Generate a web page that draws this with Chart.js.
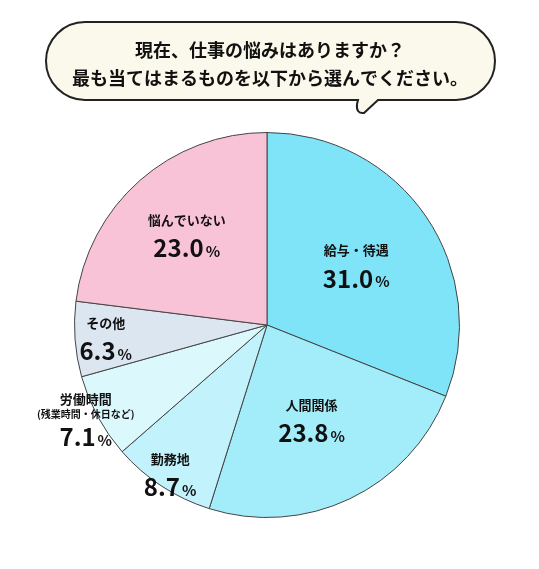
<!DOCTYPE html>
<html><head><meta charset="utf-8">
<script src="https://cdn.jsdelivr.net/npm/chart.js@4"></script>
<style>html,body{margin:0;padding:0;background:#fff}#w{width:539px;height:569px}</style>
</head><body><div id="w"><canvas id="c"></canvas></div>
<script>
const categories = ['給与・待遇','人間関係','勤務地','労働時間','その他','悩んでいない'];
const subLabels = ['','','','(残業時間・休日など)','',''];
const values = [31.0, 23.8, 8.7, 7.1, 6.3, 23.0];
const colors = ['#80e4f8','#a3edfa','#c2f3fc','#dbf8fd','#dce6f0','#f9c3d7'];
const labelRadius = [0.56, 0.54, 0.92, 1.07, 0.84, 0.63];
const titleLines = ['現在、仕事の悩みはありますか？','最も当てはまるものを以下から選んでください。'];
const F = '"Noto Sans CJK JP", "Noto Sans", sans-serif';

const bubble = {id:'bubble', afterDraw(chart){
  const ctx = chart.ctx; ctx.save();
  const x0=46,x1=495,y0=22,y1=100,r=39;
  ctx.beginPath();
  ctx.moveTo(x0+r,y0); ctx.lineTo(x1-r,y0);
  ctx.arc(x1-r,y0+r,r,-Math.PI/2,Math.PI/2);
  ctx.lineTo(378,y1); ctx.lineTo(364,113); ctx.quadraticCurveTo(356,114,357,104); ctx.lineTo(358,y1);
  ctx.lineTo(x0+r,y1);
  ctx.arc(x0+r,y0+r,r,Math.PI/2,Math.PI*1.5);
  ctx.closePath();
  ctx.fillStyle='#fbf9ec'; ctx.fill();
  ctx.lineWidth=2; ctx.strokeStyle='#222'; ctx.stroke();
  ctx.fillStyle='#111'; ctx.textAlign='center'; ctx.textBaseline='middle';
  ctx.font='bold 18px '+F;
  ctx.fillText(titleLines[0],270,50); ctx.fillText(titleLines[1],270,78);
  ctx.restore();
}};
const labels = {id:'labels', afterDatasetsDraw(chart){
  const ctx=chart.ctx; ctx.save();
  const meta=chart.getDatasetMeta(0);
  meta.data.forEach((arc,i)=>{
    const mid=(arc.startAngle+arc.endAngle)/2;
    const rr=arc.outerRadius*labelRadius[i];
    const cx=arc.x+Math.cos(mid)*rr, cy=arc.y+Math.sin(mid)*rr;
    ctx.fillStyle='#111'; ctx.textBaseline='middle'; ctx.textAlign='center';
    let y=cy-14;
    ctx.font='bold 13px '+F;
    if(subLabels[i]){ ctx.fillText(categories[i],cx,y-10); ctx.font='bold 10px '+F; ctx.fillText(subLabels[i],cx,y+5); y+=6; }
    else ctx.fillText(categories[i],cx,y);
    const v=values[i].toFixed(1);
    ctx.font='bold 24px '+F; const w1=ctx.measureText(v).width;
    ctx.font='bold 15px '+F; const w2=ctx.measureText('%').width+2;
    const sx=cx-(w1+w2)/2;
    ctx.textAlign='left';
    ctx.font='bold 24px '+F; ctx.fillText(v,sx,cy+14);
    ctx.font='bold 15px '+F; ctx.fillText('%',sx+w1+2,cy+17);
  });
  ctx.restore();
}};
new Chart(document.getElementById('c'),{
  type:'pie',
  data:{labels:categories,datasets:[{data:values,backgroundColor:colors,borderColor:'#444',borderWidth:1}]},
  options:{responsive:true,maintainAspectRatio:false,animation:false,
    layout:{padding:{top:132,bottom:51,left:74,right:79}},
    plugins:{legend:{display:false},tooltip:{enabled:false}}},
  plugins:[bubble,labels]
});
</script></body></html>
